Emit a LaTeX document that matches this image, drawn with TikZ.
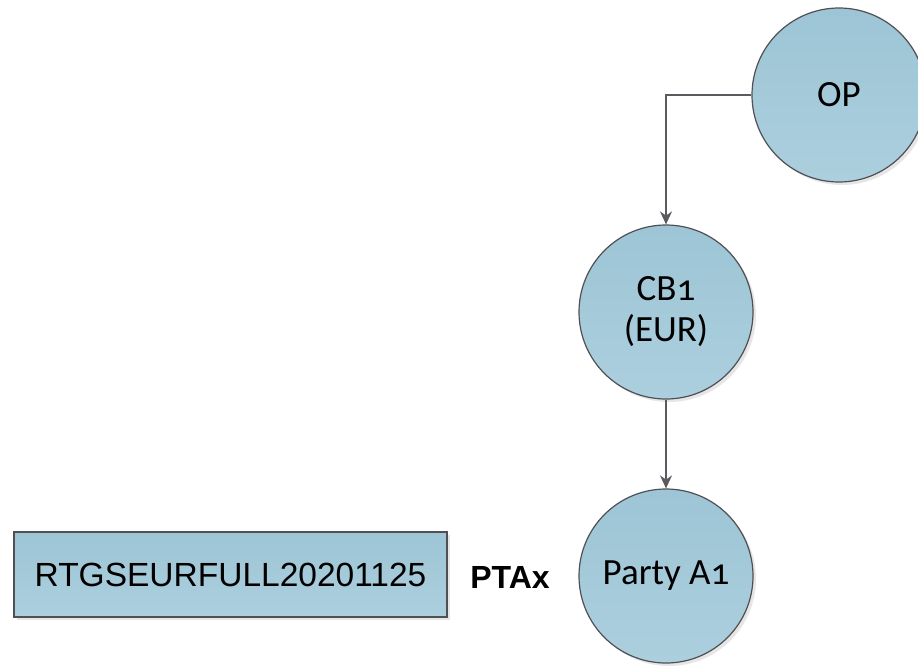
\documentclass[tikz,border=0pt]{standalone}
\usepackage{fontspec}
\setmainfont{Liberation Sans}
\newfontfamily\calib[Numbers=OldStyle]{Carlito}
\usetikzlibrary{arrows.meta, shadows}

\definecolor{nodefill}{RGB}{157,197,213}
\definecolor{nodelight}{RGB}{172,207,222}
\definecolor{nodeline}{RGB}{80,80,84}
\definecolor{linkgray}{RGB}{90,90,96}

\begin{document}
\begin{tikzpicture}[x=1pt, y=-1pt,
        party/.style={circle, draw=nodeline, line width=1.2pt, minimum size=174pt,
            inner sep=0pt, top color=nodefill, bottom color=nodelight,
            drop shadow={shadow xshift=3pt, shadow yshift=-3pt, opacity=0.2},
            font=\calib\fontsize{37}{41}\selectfont, align=center},
        filebox/.style={rectangle, draw=nodeline, line width=1.2pt, minimum width=433pt,
            minimum height=85pt, inner sep=0pt, top color=nodefill, bottom color=nodelight,
            drop shadow={shadow xshift=3pt, shadow yshift=-3pt, opacity=0.2},
            font=\fontsize{33.5}{38}\selectfont},
        link/.style={draw=linkgray, line width=1.2pt, -{Stealth[length=13pt, width=12pt]}}]
    \useasboundingbox (0,0) rectangle (918,665);

    % nodes
    \node [party] (OP) at (839,95) {OP};
    \node [party] (CB) at (666,312) {CB1\\(EUR)};
    \node [party] (A1) at (666,576) {Party A1};
    \node [filebox] (file) at (230.5,574.5) {RTGSEURFULL20201125};
    \node [font=\bfseries\fontsize{32}{38}\selectfont] (ptax) at (510,577) {PTAx};

    % links
    \draw [link] (OP.west) -| (CB.north);
    \draw [link] (CB.south) -- (A1.north);
\end{tikzpicture}
\end{document}
